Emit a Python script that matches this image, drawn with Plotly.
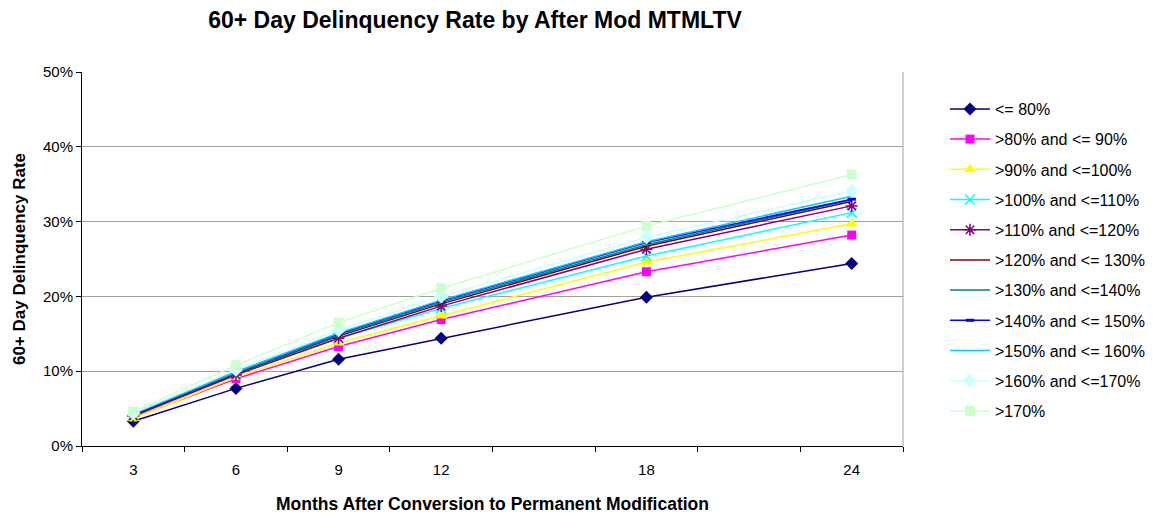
import plotly.graph_objects as go

months = [3, 6, 9, 12, 18, 24]
tick_labels = ["3", "6", "9", "12", "18", "24"]

series_names = [
    "<= 80%",
    ">80% and <= 90%",
    ">90% and <=100%",
    ">100% and <=110%",
    ">110% and <=120%",
    ">120% and <= 130%",
    ">130% and <=140%",
    ">140% and <= 150%",
    ">150% and <= 160%",
    ">160% and <=170%",
    ">170%",
]

# values in percent
le80 = [3.3, 7.7, 11.6, 14.4, 19.9, 24.4]
r80_90 = [3.8, 9.0, 13.3, 16.9, 23.3, 28.2]
r90_100 = [3.7, 9.2, 13.8, 17.4, 24.6, 29.7]
r100_110 = [4.1, 9.6, 14.4, 18.4, 25.4, 31.2]
r110_120 = [4.0, 9.5, 14.4, 18.7, 26.3, 32.1]
r120_130 = [4.1, 9.7, 14.7, 19.0, 26.7, 32.7]
r130_140 = [4.2, 9.8, 14.8, 19.2, 26.9, 32.9]
r140_150 = [4.2, 9.9, 15.0, 19.4, 27.2, 33.0]
r150_160 = [4.3, 9.9, 15.1, 19.5, 27.3, 33.4]
r160_170 = [4.4, 10.2, 15.5, 20.0, 27.9, 34.1]
gt170 = [4.6, 10.8, 16.5, 21.1, 29.4, 36.3]

all_values = [le80, r80_90, r90_100, r100_110, r110_120, r120_130,
              r130_140, r140_150, r150_160, r160_170, gt170]

colors = ["#000080", "#FF00FF", "#FFFF00", "#00FFFF", "#800080", "#800000",
          "#008080", "#0000FF", "#00CCFF", "#CCFFFF", "#CCFFCC"]

markers = [
    dict(symbol="diamond", size=10),
    dict(symbol="square", size=9),
    dict(symbol="triangle-up", size=11),
    dict(symbol="x-thin-open", size=10, line=dict(width=1.5)),
    dict(symbol="asterisk-open", size=10, line=dict(width=1.5)),
    None,
    None,
    dict(symbol="line-ew-open", size=6, line=dict(width=3)),
    None,
    dict(symbol="diamond", size=11),
    dict(symbol="square", size=10),
]

fig = go.Figure()
for i, (name, vals, col, mk) in enumerate(zip(series_names, all_values, colors, markers)):
    if mk is None:
        mode = "lines"
        marker = None
    else:
        mode = "lines+markers"
        marker = dict(color=col, **mk)
        if "line" in marker:
            marker["line"] = dict(color=col, **mk["line"])
    fig.add_trace(go.Scatter(
        x=months, y=[v / 100 for v in vals], name=name, mode=mode,
        line=dict(color=col, width=1.5), marker=marker,
        legendgroup=f"g{i}",
    ))

fig.update_layout(
    width=1153, height=514,
    margin=dict(l=82, r=250, t=72, b=68, autoexpand=False),
    paper_bgcolor="white", plot_bgcolor="white",
    font=dict(family="Arial, Liberation Sans, sans-serif", size=15, color="black"),
    title=dict(text="<b>60+ Day Delinquency Rate by After Mod MTMLTV</b>",
               x=475 / 1153, xref="container", xanchor="center",
               y=1 - 20 / 514, yref="container", yanchor="middle",
               font=dict(size=23)),
    showlegend=True,
    legend=dict(x=945 / 1153, xref="container", xanchor="left",
                y=1 - 92 / 514, yref="container", yanchor="top", itemwidth=40,
                maxheight=440,
                font=dict(size=16), tracegroupgap=6.4, bgcolor="rgba(0,0,0,0)"),
    xaxis=dict(
        range=[1.5, 25.5], tickvals=months, ticktext=tick_labels, automargin=False,
        showgrid=False, zeroline=False, showline=True, linecolor="black", linewidth=1,
        ticks="outside", ticklen=10, tickcolor="rgba(0,0,0,0)",
        minor=dict(tick0=1.5, dtick=3, ticks="outside", ticklen=5,
                   tickcolor="black", showgrid=False),
        title=dict(text="<b>Months After Conversion to Permanent Modification</b>",
                   font=dict(size=17.5), standoff=20),
    ),
    yaxis=dict(
        range=[0, 0.5], dtick=0.1, tickformat=".0%", automargin=False,
        showgrid=True, gridcolor="#A0A0A0", gridwidth=1,
        zeroline=False, showline=True, linecolor="black", linewidth=1,
        ticks="outside", ticklen=5, tickcolor="black",
        title=dict(text="<b>60+ Day Delinquency Rate</b>", font=dict(size=17), standoff=13),
    ),
    shapes=[dict(type="line", xref="paper", yref="paper", x0=1, x1=1, y0=0, y1=1,
                 line=dict(color="#A0A0A0", width=1))],
)

fig.write_html("out.html", config={"displayModeBar": False},
               post_script="document.body.style.margin='0';document.body.style.padding='0';")
